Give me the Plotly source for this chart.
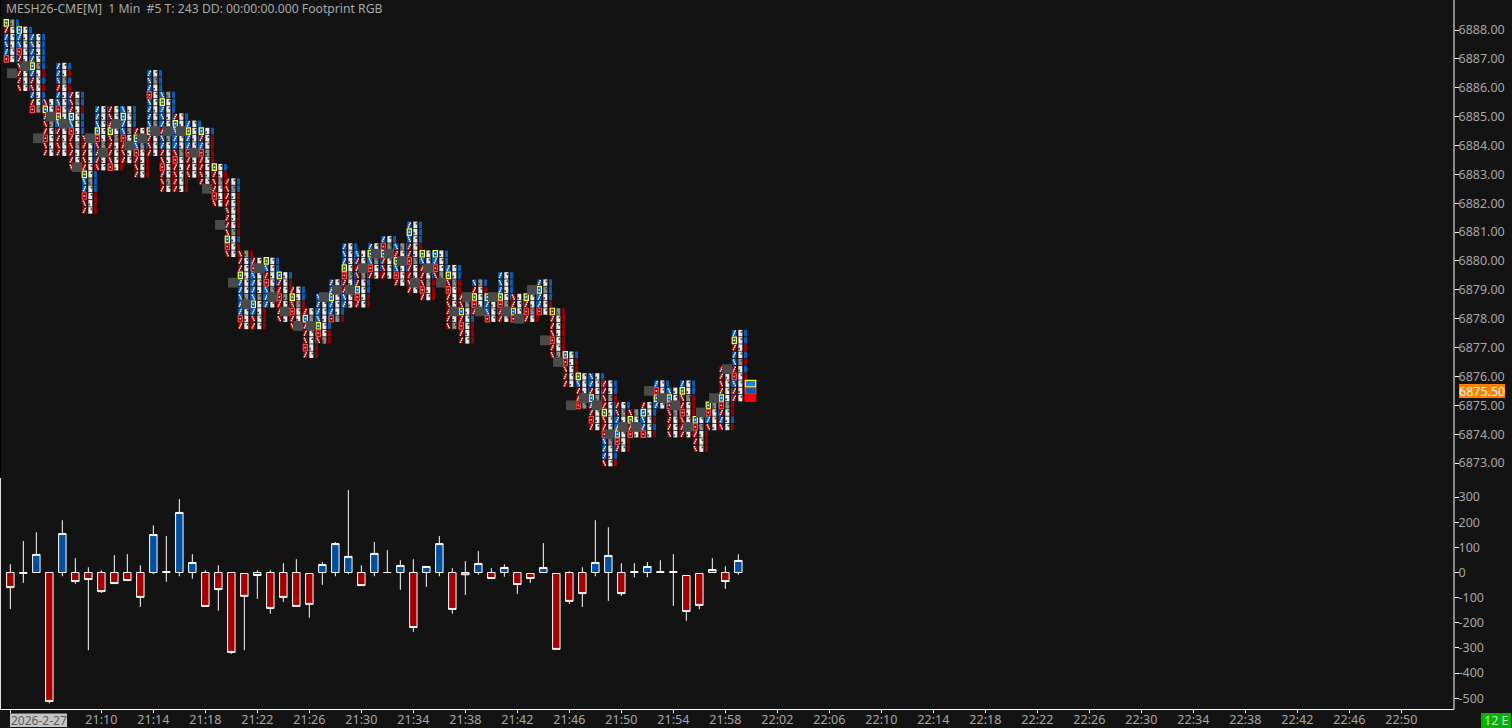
import plotly.graph_objects as go

# ---------- data ----------
x_tick_labels = ["21:10","21:14","21:18","21:22","21:26","21:30","21:34","21:38","21:42","21:46","21:50","21:54","21:58",
                 "22:02","22:06","22:10","22:14","22:18","22:22","22:26","22:30","22:34","22:38","22:42","22:46","22:50"]
first_bar_minute = 21*60+3
price_ticks = [6888,6887,6886,6885,6884,6883,6882,6881,6880,6879,6878,6877,6876,6875,6874,6873]
delta_ticks = [300,200,100,0,-100,-200,-300,-400,-500]

delta_open = [0,0,0,0,0,0,0,0,0,0,0,0,0,0,0,0,0,0,-4,0,0,0,0,-4,0,0,0,0,0,0,0,0,0,0,0,0,0,0,0,0,-4,0,-4,0,0,0,0,0,0,0,0,0,-12,-4,0,0,0]
delta_close = [-60,-3,72,-513,155,-36,-28,-76,-44,-32,-99,151,3,239,40,-135,-68,-318,-95,-12,-143,-99,-135,-127,32,115,64,-52,76,
               0,28,-219,24,115,-147,-9,36,-24,20,-48,-24,20,-306,-115,-84,40,68,-84,3,24,3,3,-155,-131,12,-36,48]
delta_high = [33,125,160,0,208,57,21,9,69,73,29,188,145,292,73,9,29,0,-4,9,9,37,53,-4,41,121,328,29,121,
              89,49,53,24,145,17,45,85,17,33,0,-4,117,-4,5,21,208,180,37,37,41,49,73,-12,-4,57,25,73]
delta_low = [-145,-41,0,-521,-15,-45,-309,-81,-44,-32,-137,-7,-37,-15,-25,-135,-152,-324,-309,-105,-164,-117,-135,-180,-49,-15,-7,-52,-15,
             0,-69,-236,-57,-15,-164,-89,-9,-24,-17,-85,-41,0,-306,-125,-137,-15,-113,-93,-19,-19,0,-133,-192,-146,0,-65,-9]

bar_high = [6888.25,6888,6887.75,6885.5,6886.75,6885.75,6884.25,6885.25,6885.25,6885.25,6884.5,6886.5,6885.75,6885,6884.75,6884.5,6883.25,6882.75,
            6880.25,6880,6880,6879.5,6879,6878.25,6878.75,6879.25,6880.5,6880.25,6880.5,6880.75,6880.5,6881.25,6880.25,6880.25,6879.75,6878.75,
            6879.25,6878.75,6879.5,6878.75,6878.75,6879.25,6878.25,6876.75,6876,6876,6875.75,6875,6874.75,6875,6875.75,6875.5,6875.75,6874.5,6875,6876.25,6877.5]
bar_low = [6887,6886,6885.25,6883.75,6883.75,6883.25,6881.75,6883.25,6883.25,6883.5,6883,6883.75,6882.5,6882.5,6883,6882.75,6882,6880.25,
           6877.75,6877.75,6878.5,6878,6877.75,6876.75,6877.25,6878,6878.5,6878.5,6879.5,6879.5,6879.25,6879,6878.75,6879.5,6877.75,6877.25,
           6878.25,6878,6878,6878,6878,6878.25,6876.75,6875.75,6875,6874.25,6873,6873.5,6874,6874,6875,6874,6874,6873.5,6874.25,6874.25,6875.25]
poc_price = [None,6886.5,6886.75,6884.25,6885,6884.75,6883.25,6884.25,6883.75,6884.75,6884,6884.25,6884.5,6884.5,6884.5,6883.75,6882.5,6881.25,
             6879.25,6878.5,6879.75,6878.75,6878.25,6877.75,6877.75,6878.75,6879,6879,6879.75,6880.25,6880.25,6880,6879.25,6879.75,6879.25,6878.25,
             6878.75,6878.25,6878.75,6878.25,6878,6879,6877.25,6876.5,6875,6875.25,6875,6874,6874.25,6874.25,6875.5,6875.25,6875,6874.25,6874.75,6875.25,6876.25]
yellow_price = [6888.25,6888,6886.75,6885.25,6885,6885,6883,6884.5,6884.5,6885,6884.25,6884.5,6885.5,6884.75,6884.5,6884.5,6883.25,6880.75,
                6879.5,6878.5,6880,6879.5,6878.75,6878,6877.75,6878.75,6879.75,6879,6880.25,6880.25,6880,6881,6880.25,6880.25,6879.5,6878.25,
                6878.75,6878.75,6878.75,6878.25,6878.75,6879,6878.25,6876.75,6876,6875.25,6874.75,6874,6874.5,6874.75,6875.25,6875.25,6875.5,6874.5,6875,6875.25,6877.25]
red_box_price = [6887,6887.25,6885.25,6884.25,6885.25,6884.5,6882.25,6884.25,6883.25,6884.25,6883.75,6885.75,6883.25,6883.5,6883.75,6883.75,6882.25,6880.5,
                 6878,6879.75,6879.25,6878.75,6878.25,6877,6877.5,6878,6879.5,6878.75,6879.75,6880.5,6879.5,6880,6879,6879.75,6879,6877.75,
                 6878.5,6878,6878.5,6878,6878.25,6878.25,6877.25,6876.5,6875,6874.5,6874,6873.75,6874,6874,6875.5,6875,6874.75,6874.25,6874.75,6875,6876]
# colour of the per-price delta column, top row to bottom row (b = blue, r = dark red)
col3_rows = ["bbbbbb","bbbbbbbbb","bbbbbrbrbbr","bbbbbrrr","brbrbbbbbrrrr","bbrbbbrrrrr","bbbbrbbbrrr","bbbrrrrrr","bbbbrrrrr","bbbrrrrr",
             "rbbrrrr","bbbbbbbbbrrr","bbbbbbbbrrrrrr","bbbbbrrrrrr","bbbbbrrr","brrrrrrr","brrrrr","bbrrrrrrbrr","rbbbbbbbbrr","bbbbbbbrrr",
             "bbbbrrr","brrrrrr","bbrrrr","bbbbbrr","bbbbbrr","bbbbbr","bbbrbbbrr","bbbbbbrr","bbbbr","bbrbbr",
             "bbbbrr","bbbrbbrrrr","bbbbrrr","bbbr","bbrrrrrrr","bbbbrrr","brbbr","bbbr","bbbbrrr","bbrr",
             "bbrr","bbbrr","rrrrrrr","brrrr","bbbbr","bbbbrrrr","bbrbbbbbbbbr","brbbbrr","bbbr","bbrbr",
             "bbbb","bbbrrrr","bbrrrrrr","brrrr","bbrr","bbbbbrrbr","bbrbrbrrrr"]
# colour behind the left column of numbers, top row to bottom row
col1_rows = ["brbbbr","bbbrrrrrr","bbbbbbrrbrr","rbrrrrrr","bbbrbbrbbrrrr","rrrbbrrrrrr","rrrrrbbbrrr","bbbbrrrrr","rrrbrrrrr","bbbbrrrr",
             "rbbrrrr","bbbrbbbbbrrr","bbbbbrbbrrrrrr","rbbbbrrrrrr","bbbbbrrr","brbbrrrr","brrrrr","rrrrrrrrbrr","rrrbbbbbbrr","rrbbbbbbrr",
             "bbrrbbb","brrrrrr","rbrrrr","rbrrrrr","bbbbbrr","bbbbbr","bbbbrrrbb","brrrrbrr","bbbrr","brbrrr",
             "brbbrr","bbbrrbrrrr","bbrrrrr","bbbr","bbrrrrrrr","rrbrrrr","brbbr","bbbr","bbbbrrr","rrbr",
             "brrr","bbbbr","rrrrrrr","brrrr","bbrrr","bbrrbrrr","rrrrbrrrbbbr","rrbbbrr","rbrr","rbbbr",
             "brbb","brrrrrr","bbrrrrrr","brrrr","brbr","rrrrbbrbr","bbrbbrrbrr"]
last_cell_prices = [6875.75,6875.5,6875.25]
last_cell_colors = ["#0a84f5","#0a5aa8","#ff0000"]
last_cell_borders = ["#ffff40","#f04040","#ff0000"]

BG="#131313"; BLUE="#0a5cb4"; RED="#960000"; TXT="#a6a6a6"
tick_h=0.25
n=len(delta_close)
def xmin(v): return v/13.0
PX=1/28.87

c3x,c3b,c3c=[],[],[]
c2x,c2b,c2c=[],[],[]
c1x,c1b,c1c=[],[],[]
wx,wy=[],[]
dx,dy=[],[]
shapes=[]
cell=0.25*0.9
def rect(xc,w,p,h,**kw):
    return dict(type="rect",xref="x",yref="y",x0=xc-w/26,x1=xc+w/26,y0=p-h/2,y1=p+h/2,layer="above",**kw)
for i in range(n):
    rows=round((bar_high[i]-bar_low[i])/tick_h)+1
    s=(col3_rows[i]+col3_rows[i][-1]*rows)[:rows]
    s1=(col1_rows[i]+col1_rows[i][-1]*rows)[:rows]
    for k in range(rows):
        p=bar_high[i]-k*tick_h
        col=BLUE if s[k]=="b" else RED
        boxed = p==yellow_price[i] or p==red_box_price[i]
        if p==yellow_price[i]: c1=BLUE if i!=42 else RED
        elif p==red_box_price[i]: c1=RED
        else: c1=BLUE if s1[k]=="b" else RED
        c3x.append(i+xmin(7.2)); c3b.append(p-cell/2); c3c.append(col)
        c2x.append(i+xmin(2)); c2b.append(p-cell/2); c2c.append("#e8e8e8" if (i+k)%6 else "#8c8c8c")
        c1x.append(i+xmin(-4)); c1b.append(p-cell/2); c1c.append(c1)
        base=i+xmin(-4)
        if boxed:
            wx.append(base); wy.append(p)
        else:
            d=1 if (i+k)%3 else -1
            wx += [base+xmin(d*0.9), base, base-xmin(d*0.9)]
            wy += [p+1.9*PX, p, p-1.9*PX]
        b2=i+xmin(2)
        d=1 if (i*2+k)%3 else -1
        dx.append(b2+xmin(d*1.2)); dy.append(p+d*1.2*PX)
for i in range(n):
    shapes.append(rect(i+xmin(-4),4.2,yellow_price[i],cell,line=dict(color="#ffff40",width=1.2),fillcolor="rgba(0,0,0,0)"))
    shapes.append(rect(i+xmin(-4),4.2,red_box_price[i],cell,line=dict(color="#f04848",width=1.2),fillcolor="rgba(0,0,0,0)"))
for i in range(n):
    if poc_price[i] is not None:
        shapes.append(rect(i+xmin(-11.3),10,poc_price[i],0.34,line=dict(width=0),fillcolor="#4a4a4a"))
plot_h=709.0
def ypx(v): return 1-v/plot_h
def xpx(v): return v/1454.0
shapes += [
    dict(type="line",xref="paper",yref="paper",x0=1,x1=1,y0=0,y1=1,line=dict(color="#ffffff",width=1)),
    dict(type="line",xref="paper",yref="paper",x0=xpx(0.5),x1=xpx(0.5),y0=0,y1=ypx(478),line=dict(color="#e0e0e0",width=1)),
    dict(type="line",xref="paper",yref="paper",x0=xpx(0.5),x1=xpx(0.5),y0=ypx(478),y1=1,line=dict(color="#000000",width=1)),
    dict(type="rect",xref="paper",yref="paper",x0=xpx(10),x1=xpx(67),y0=ypx(713.5),y1=ypx(727),line=dict(width=0),fillcolor="#c4c4c4"),
    dict(type="rect",xref="paper",yref="paper",x0=xpx(1459),x1=xpx(1505),y0=ypx(384),y1=ypx(398),line=dict(width=0),fillcolor="#ff8000"),
    dict(type="rect",xref="paper",yref="paper",x0=xpx(1481),x1=xpx(1511),y0=ypx(713),y1=ypx(728),line=dict(width=0),fillcolor="#00b400"),
]

fig=go.Figure()
def bars(x,b,c,w,h):
    fig.add_trace(go.Bar(x=x,y=[h]*len(x),base=b,width=xmin(w),marker_color=c,marker_line_width=0,xaxis="x",yaxis="y",showlegend=False,hoverinfo="skip"))
bars(c3x,c3b,c3c,3.0,cell)
bars(c2x,c2b,c2c,4.0,cell)
bars(c1x,c1b,c1c,4.2,cell)
fig.add_trace(go.Scatter(x=dx,y=dy,mode="markers",marker=dict(symbol="square",size=1.8,color="#444444",line=dict(width=0)),xaxis="x",yaxis="y",showlegend=False,hoverinfo="skip"))
fig.add_trace(go.Scatter(x=wx,y=wy,mode="markers",marker=dict(symbol="square",size=1.5,color="#f6f6f6",line=dict(width=0)),xaxis="x",yaxis="y",showlegend=False,hoverinfo="skip"))
fig.add_trace(go.Bar(x=[n-1+xmin(12.2)]*3,y=[cell]*3,base=[p-cell/2 for p in last_cell_prices],width=xmin(10.4),
    marker=dict(color=last_cell_colors,line=dict(color=last_cell_borders,width=1.2)),xaxis="x",yaxis="y",showlegend=False,hoverinfo="skip"))

fig.add_trace(go.Candlestick(x=list(range(n)),open=delta_open,high=delta_high,low=delta_low,close=delta_close,
    increasing=dict(fillcolor="#00509f",line=dict(color="#ffffff",width=1)),
    decreasing=dict(fillcolor="#a50000",line=dict(color="#ffffff",width=1)),
    whiskerwidth=0,xaxis="x",yaxis="y2",showlegend=False,hoverinfo="skip"))

tick_idx=[0]+[int(t[:2])*60+int(t[3:])-first_bar_minute for t in x_tick_labels]
tick_txt=[""]+x_tick_labels
axis_font=dict(family="Noto Sans",size=12.5,color=TXT)
fig.update_layout(
    width=1512,height=728,autosize=False,
    margin=dict(l=0,r=58,t=0,b=19,pad=0),
    paper_bgcolor=BG,plot_bgcolor=BG,barmode="overlay",boxgap=0.18,boxgroupgap=0.3,
    dragmode=False,showlegend=False,
    xaxis=dict(range=[-10.33/13,(1454-10.33)/13],tickmode="array",tickvals=tick_idx,ticktext=tick_txt,automargin=False,
               showgrid=False,zeroline=False,showline=True,linecolor="#ffffff",linewidth=1,ticklabelstandoff=-4,
               ticks="outside",ticklen=3,tickcolor="#ffffff",tickwidth=1,tickfont=axis_font,
               rangeslider=dict(visible=False),anchor="y2",tickangle=0),
    yaxis=dict(domain=[1-478/plot_h,1],range=[6888-(478-30)/28.87,6888+30/28.87],side="right",anchor="x",automargin=False,
               tickmode="array",tickvals=price_ticks,ticktext=[f"{p:.2f}" for p in price_ticks],ticklabelstandoff=-3,
               showgrid=False,zeroline=False,showline=False,ticks="outside",ticklen=4,tickcolor="#ffffff",tickfont=axis_font),
    yaxis2=dict(domain=[0,(709-484)/plot_h],range=[-(709-572.5)/25.13*100,(572.5-484)/25.13*100],side="right",anchor="x",automargin=False,
               tickmode="array",tickvals=delta_ticks,ticktext=[str(d) for d in delta_ticks],ticklabelstandoff=-3,
               showgrid=False,zeroline=False,showline=False,ticks="outside",ticklen=4,tickcolor="#ffffff",tickfont=axis_font),
    shapes=shapes,
    annotations=[
        dict(text="MESH26-CME[M]  1 Min  #5 T: 243 DD: 00:00:00.000 Footprint RGB",xref="paper",yref="paper",x=xpx(5),y=ypx(-1),
             xanchor="left",yanchor="top",showarrow=False,font=dict(family="Noto Sans",size=12.2,color="#a8a8a8"),borderpad=0),
        dict(text="2026-2-27",xref="paper",yref="paper",x=xpx(38.5),y=ypx(720),xanchor="center",yanchor="middle",showarrow=False,
             font=dict(family="Noto Sans",size=12,color="#5c5c5c"),borderpad=0),
        dict(text="6875.50",xref="paper",yref="paper",x=xpx(1482),y=ypx(391),xanchor="center",yanchor="middle",showarrow=False,
             font=dict(family="Noto Sans",size=12.5,color="#ffffff"),borderpad=0),
        dict(text="12 E",xref="paper",yref="paper",x=xpx(1496),y=ypx(720.5),xanchor="center",yanchor="middle",showarrow=False,
             font=dict(family="Noto Sans",size=12.5,color="#c8e8c8"),borderpad=0),
    ],
)
fig.write_html("out.html",config=dict(displayModeBar=False),
    post_script="document.body.style.margin='0';document.body.style.background='#131313';document.documentElement.style.overflow='hidden';window.dispatchEvent(new Event('resize'));")
